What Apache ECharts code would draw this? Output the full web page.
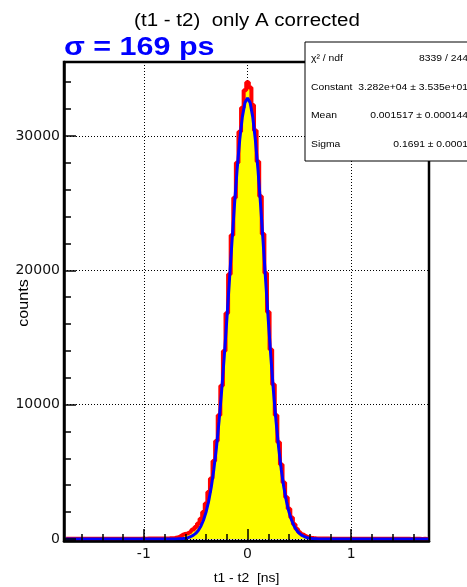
<!DOCTYPE html>
<html><head><meta charset="utf-8">
<script src="https://cdn.jsdelivr.net/npm/echarts@6/dist/echarts.min.js"></script>
<style>html,body{margin:0;padding:0;background:#fff}#c{width:467px;height:587px}</style>
</head><body><div id="c"></div>
<script>
// ---- data ----
const titleText = '(t1 - t2)  only A corrected';
const sigmaText = 'σ = 169 ps';
const xTitle = 't1 - t2  [ns]';
const yTitle = 'counts';
const xRange = [-1.77, 1.75];
const yRange = [-150, 35500];
const xTickLabels = [-1, 0, 1];
const yTickLabels = [0, 10000, 20000, 30000];
// histogram: bin centres start at histStart, spaced binWidth
const histStart = -1.75;
const binWidth = 0.025;
const histCounts = [
  12,10,14,9,13,11,15,12,10,16,13,14,12,17,15,13,18,16,14,19,
  17,20,18,22,19,21,24,22,26,23,27,25,29,28,31,30,34,37,
  40,45,50,60,80,110,180,300,380,420,520,700,900,1150,1500,2000,
  2650,3500,4500,5800,7300,9200,11400,14000,16800,19700,22600,25400,
  28000,30300,32100,33400,34000,33600,32300,30400,28100,25500,22700,
  19800,16900,14100,11500,9200,7200,5550,4200,3100,2250,1600,1100,
  750,500,330,210,140,95,70,55,45,40,35,30,30,25,
  22,21,19,20,18,17,19,16,15,17,14,16,13,15,12,14,13,11,12,14,
  10,12,11,13,9,11,10,12,9,10,8,11,9,10,8,9,7,9
];
// gaussian fit curve sampled at fitStart + i*fitStep
const fitStart = -0.75;
const fitStep = 0.025;
const fitValues = [
  2,3,6,11,20,35,60,101,166,265,414,635,952,1395,2000,2808,3853,5176,6803,8746,
  11004,13542,16307,19212,22146,24975,27555,29745,31416,32463,32820,
  32463,31416,29745,27555,24975,22146,19212,16307,13542,11004,
  8746,6803,5176,3853,2808,2000,1395,952,635,414,265,166,101,60,35,20,11,6,3,2
];
const fitEdges = [-1.77, 1.75];
const statsLabels = ['χ² / ndf', 'Constant', 'Mean', 'Sigma'];
const statsValues = ['8339 / 244', '3.282e+04 ± 3.535e+01', '0.001517 ± 0.000144', '0.1691 ± 0.0001'];

// ---- build ----
const histData = histCounts.map((c, i) => [+(histStart + i * binWidth).toFixed(4), c]);
const fitData = [[fitEdges[0], 0]]
  .concat(fitValues.map((v, i) => [+(fitStart + i * fitStep).toFixed(4), v]))
  .concat([[fitEdges[1], 0]]);

const tickFont = { fontFamily: 'DejaVu Sans', fontSize: 14, color: '#111' };
const gridStyle = { color: '#000', width: 1, type: [1, 2] };
const noLine = { show: false, onZero: false };

const chart = echarts.init(document.getElementById('c'), null, { renderer: 'canvas', devicePixelRatio: 1 });
const rowsY = [59, 88, 116, 145];
const statsChildren = [{
  type: 'rect', z: 100, shape: { x: 305, y: 42, width: 200, height: 119 },
  style: { fill: '#fff', stroke: '#000', lineWidth: 1 }
}];
statsLabels.forEach((t, i) => {
  statsChildren.push({ type: 'text', z: 101, x: 311, y: rowsY[i], scaleX: 1.15,
    style: { text: t, fontFamily: 'Liberation Sans', fontSize: 9, fill: '#000', align: 'left', verticalAlign: 'middle' } });
  statsChildren.push({ type: 'text', z: 101, x: 468, y: rowsY[i], scaleX: 1.15,
    style: { text: statsValues[i], fontFamily: 'Liberation Sans', fontSize: 9, fill: '#000', align: 'right', verticalAlign: 'middle' } });
});

chart.setOption({
  animation: false,
  backgroundColor: '#fff',
  grid: { left: 64, right: 38, top: 62, bottom: 46, show: true, borderColor: '#000', borderWidth: 2.5, backgroundColor: 'transparent' },
  xAxis: [
    { type: 'value', position: 'bottom', min: xRange[0], max: xRange[1], splitNumber: 3, z: 0,
      axisLine: noLine, axisTick: { show: false }, axisLabel: { show: false },
      splitLine: { show: true, lineStyle: gridStyle } },
    { type: 'value', position: 'bottom', min: xRange[0], max: xRange[1], splitNumber: 3, z: 10,
      axisLine: { show: true, onZero: false, lineStyle: { color: '#000', width: 2.5 } },
      axisTick: { show: true, inside: true, length: 12, lineStyle: { color: '#000', width: 1.5 } },
      axisLabel: Object.assign({ margin: 6, formatter: v => xTickLabels.some(t => Math.abs(t - v) < 1e-6) ? String(Math.round(v)) : '' }, tickFont),
      splitLine: { show: false } },
    { type: 'value', position: 'bottom', min: xRange[0], max: xRange[1], splitNumber: 18, z: 10,
      axisLine: noLine, axisLabel: { show: false }, splitLine: { show: false },
      axisTick: { show: true, inside: true, length: 7, lineStyle: { color: '#000', width: 1.5 } } }
  ],
  yAxis: [
    { type: 'value', position: 'left', min: yRange[0], max: yRange[1], splitNumber: 4, z: 0,
      axisLine: noLine, axisTick: { show: false }, axisLabel: { show: false },
      splitLine: { show: true, lineStyle: gridStyle } },
    { type: 'value', position: 'left', min: yRange[0], max: yRange[1], splitNumber: 4, z: 10,
      axisLine: { show: true, onZero: false, lineStyle: { color: '#000', width: 2.5 } },
      axisTick: { show: true, inside: true, length: 12, lineStyle: { color: '#000', width: 1.5 } },
      axisLabel: Object.assign({ margin: 4, formatter: v => yTickLabels.indexOf(v) >= 0 ? String(v) : '' }, tickFont),
      splitLine: { show: false } },
    { type: 'value', position: 'left', min: yRange[0], max: yRange[1], splitNumber: 18, z: 10,
      axisLine: noLine, axisLabel: { show: false }, splitLine: { show: false },
      axisTick: { show: true, inside: true, length: 7, lineStyle: { color: '#000', width: 1.5 } } }
  ],
  series: [
    { type: 'line', name: 'hist', xAxisIndex: 0, yAxisIndex: 0, data: histData, step: 'middle',
      symbol: 'none', z: 2, lineStyle: { color: '#ff0000', width: 4 },
      areaStyle: { color: '#ffff00', opacity: 1 } },
    { type: 'line', name: 'fit', xAxisIndex: 0, yAxisIndex: 0, data: fitData,
      symbol: 'none', z: 3, lineStyle: { color: '#0000ff', width: 3 } }
  ],
  graphic: [
    { type: 'text', x: 247, y: 21, scaleX: 1.14, z: 100,
      style: { text: titleText, fontFamily: 'Liberation Sans', fontSize: 18, fill: '#000', align: 'center', verticalAlign: 'middle' } },
    { type: 'text', x: 64, y: 48, scaleX: 1.22, z: 100,
      style: { text: sigmaText, fontFamily: 'Liberation Sans', fontWeight: 'bold', fontSize: 25, fill: '#0000ff', align: 'left', verticalAlign: 'middle' } },
    { type: 'text', x: 246.5, y: 578, scaleX: 1.07, z: 100,
      style: { text: xTitle, fontFamily: 'Liberation Sans', fontSize: 13, fill: '#000', align: 'center', verticalAlign: 'middle' } },
    { type: 'text', x: 24, y: 303, rotation: Math.PI / 2, scaleX: 1.15, z: 100,
      style: { text: yTitle, fontFamily: 'Liberation Sans', fontSize: 14, fill: '#000', align: 'center', verticalAlign: 'middle' } },
    { type: 'group', children: statsChildren }
  ]
});
</script></body></html>
